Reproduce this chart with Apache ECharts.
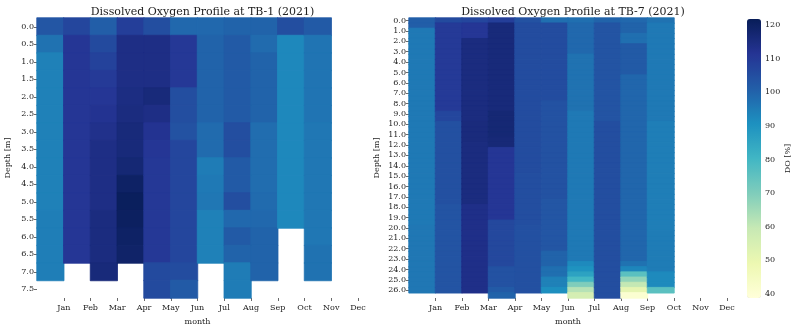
<!DOCTYPE html>
<html>
<head>
<meta charset="utf-8">
<script src="https://cdn.jsdelivr.net/npm/echarts@6/dist/echarts.min.js"></script>
<style>
html,body{margin:0;padding:0;background:#fff;}
#chart{width:800px;height:325px;}
</style>
</head>
<body>
<div id="chart"></div>
<script>
// ---- tick labels / categories ----
const months = ['Jan','Feb','Mar','Apr','May','Jun','Jul','Aug','Sep','Oct','Nov','Dec'];
const monthTicks = [1,2,3,4,5,6,7,8,9,10,11,12];
const cellColumns = ['0','1','2','3','4','5','6','7','8','9','10','11'];
const tb1Depths = ['0.0','0.5','1.0','1.5','2.0','2.5','3.0','3.5','4.0','4.5','5.0','5.5','6.0','6.5','7.0','7.5'];
const tb7Depths = ['0.0','0.5','1.0','1.5','2.0','2.5','3.0','3.5','4.0','4.5','5.0','5.5','6.0','6.5','7.0','7.5',
  '8.0','8.5','9.0','9.5','10.0','10.5','11.0','11.5','12.0','12.5','13.0','13.5','14.0','14.5','15.0','15.5',
  '16.0','16.5','17.0','17.5','18.0','18.5','19.0','19.5','20.0','20.5','21.0','21.5','22.0','22.5','23.0','23.5',
  '24.0','24.5','25.0','25.5','26.0','26.5'];
const colorbarTicks = [40,50,60,70,80,90,100,110,120];

// ---- TB-1 DO [%], one array per column, top (0.0 m) to bottom ----
const tb1Col0  = [103,97,94,94,94,94,94,94,94,94,94,94.5,94.5,94.5,94.5];
const tb1Col1  = [107,111,111,111,111,111,111,111,111,111,111,111,111,111];
const tb1Col2  = [101,106,108,110,111,112,113,114,114,114,114,115,115,115,116];
const tb1Col3  = [109,114,114,114,114.5,115,116,116,117,119.5,121,120.5,119.5,119];
const tb1Col4  = [105,114,114,114,116,114,112,111,110.5,110.5,110.5,110.5,110.5,110.5,106,106];
const tb1Col5  = [99,110.5,110.5,110.5,105,105,104,107,107,107,107,107,107,107,105.5,102];
const tb1Col6  = [99,100,100,100,100,100,98.5,98.5,95,95.5,96,94,94,94];
const tb1Col7  = [100,102,102,102,102,102,105,105,102,102,105,99,102,100,95,95];
const tb1Col8  = [100,98.5,100,100,100,100,98,98,98,98,98.5,99,100,100,100];
const tb1Col9  = [105,92.5,92.5,92.5,92.5,92.5,92.5,92.5,92.5,92.5,92.5,92.5];
const tb1Col10 = [102,96.5,96.5,96.5,96.5,96.5,96,96,96,96,96,96,96,97,97];
const tb1Values = [tb1Col0,tb1Col1,tb1Col2,tb1Col3,tb1Col4,tb1Col5,tb1Col6,tb1Col7,tb1Col8,tb1Col9,tb1Col10];

// ---- TB-7 DO [%], one array per column, top (0.0 m) to bottom ----
const tb7Col0 = [101,101,95.5,95.5,95.5,95.5,95.5,95.5,95.5,95.5,
  95.5,95.5,95.5,95.5,95.5,95.5,95.5,95.5,95.5,95.5,
  95.5,95.5,95.5,95.5,95.5,95.5,95.5,95.5,95.5,95.5,
  95.5,95.5,95.5,95.5,95.5,95.5,95.5,95.5,95.5,95.5,
  96,96,96,96,96,96,96,96,96,96,
  96,96,96];
const tb7Col1 = [106,110,110,110,110,110,110,110,110,110,
  110,110,110,110,110,110,110,110,107,107,
  104.5,104.5,104.5,104.5,104.5,104.5,104.5,104.5,104.5,104.5,
  104.5,104.5,104.5,104.5,104.5,104.5,103.5,103.5,103.5,103.5,
  103.5,103.5,103.5,103.5,103.5,103.5,103.5,103.5,103.5,103.5,
  103.5,103.5,103.5];
const tb7Col2 = [107,111,111,111,115,115,115,115,115,115,
  115,115,115,115,115,115,115,115,115,115,
  115.5,115.5,115.5,115.5,115,115,115,115,115,115,
  115,115,115,115,115,115,113.5,113.5,113.5,113.5,
  113.5,113.5,113.5,113.5,113.5,113.5,113.5,113.5,113.5,113.5,
  113.5,113.5,113.5];
const tb7Col3 = [109,116,116,116,116,116,116,116,116,116,
  116,116,116,116,116,116,116,116,117,117,
  117,117,117,116.5,116.5,111,111,111,111,111,
  111,111,111,111,111,111,111,111,111,106.5,
  106.5,106.5,106.5,106.5,106.5,106.5,106.5,106.5,104,104,
  104,104,102,100];
const tb7Col4 = [104,105.5,105.5,105.5,105.5,105.5,105.5,105.5,105.5,105.5,
  105.5,105.5,105.5,105.5,105.5,105.5,105.5,105.5,105.5,105.5,
  105.5,105.5,105.5,105.5,105.5,105.5,105.5,105.5,105.5,105.5,
  105,105,105,105,105,105,105,105,105,105,
  104.5,104.5,104.5,104.5,104.5,104.5,104.5,104.5,104.5,104.5,
  104.5,104.5,104.5];
const tb7Col5 = [97.5,105.5,105.5,105.5,105.5,105.5,105.5,105.5,105.5,105.5,
  105.5,105.5,105.5,105.5,105.5,105.5,104,104,104,104,
  104,104,104,104,104,104,104,104,104,104,
  104,104,104,104,104,103,103,103,103,103,
  103,103,103,103,103,100,100,100,97.5,97.5,
  94,94,91];
const tb7Col6 = [97.5,99,99,99,99,99,99,97,97,97,
  97,97,97,97,97,97,97,97,95.5,95.5,
  95.5,95.5,95.5,95.5,95.5,95.5,95.5,95.5,95.5,95.5,
  95.5,95.5,95.5,95.5,95.5,95.5,95.5,95.5,95.5,95.5,
  95.5,95.5,95.5,95.5,95.5,95.5,95.5,92,90,86,
  80,70,62,56];
const tb7Col7 = [100,103.5,103.5,103.5,103.5,103.5,103.5,103.5,103.5,103.5,
  103.5,103.5,103.5,103.5,103.5,103.5,103.5,103.5,103.5,103.5,
  105,105,105,105,105,105,105,105,105,105,
  105,105,105,105,105,105,105,105,105,105,
  105,105,105,105,105,105,105,105,105,105,
  105,105,105,105];
const tb7Col8 = [99,100,100,97.5,97.5,102,102,102,102,102,
  102,99.5,99.5,99.5,99.5,99.5,99.5,99.5,99.5,99.5,
  99.5,99.5,99.5,99.5,99.5,99.5,99.5,99.5,99.5,99.5,
  99.5,99.5,99.5,99.5,99.5,99.5,99.5,99.5,99.5,99.5,
  99.5,99.5,99.5,99.5,99.5,99.5,99.5,97,93,76,
  67,60,51,41];
const tb7Col9 = [97,95.5,95.5,95.5,95.5,95.5,95.5,95.5,95.5,95.5,
  95.5,95.5,95.5,95.5,95.5,95.5,95.5,95.5,95.5,95.5,
  94.5,94.5,94.5,94.5,94.5,94.5,94.5,94.5,94.5,94.5,
  94.5,94.5,94.5,94.5,94.5,94.5,94.5,94.5,94.5,94.5,
  94.5,95,95,95,95,95,95,95,95,92,
  92,92,76];
const tb7Values = [tb7Col0,tb7Col1,tb7Col2,tb7Col3,tb7Col4,tb7Col5,tb7Col6,tb7Col7,tb7Col8,tb7Col9];

const doMin = 38.8, doMax = 121.8;
const ylgnbu = ['#ffffd9','#edf8b1','#c7e9b4','#7fcdbb','#41b6c4','#1d91c0','#225ea8','#253494','#081d58'];

// colour of a value on the same colormap (used only to paint a thin seam-hiding border)
function hexRgb(h){ return [1,3,5].map(i => parseInt(h.substr(i,2),16)); }
const ylgnbuRgb = ylgnbu.map(hexRgb);
function colorAt(v){
  let t = (v - doMin) / (doMax - doMin);
  t = Math.max(0, Math.min(1, t)) * (ylgnbuRgb.length - 1);
  const i = Math.min(Math.floor(t), ylgnbuRgb.length - 2), f = t - i;
  const a = ylgnbuRgb[i], b = ylgnbuRgb[i+1];
  return 'rgb(' + a.map((c,k) => Math.round(c + (b[k]-c)*f)).join(',') + ')';
}

function toCells(cols){
  const out = [];
  cols.forEach((col, ci) => col.forEach((v, ri) => out.push({
    value:[ci, ri, v],
    itemStyle:{borderColor:colorAt(v), borderWidth:0.8}
  })));
  return out;
}

const FONT = 'DejaVu Serif';
const TXT = '#222';
const tickStyle = {lineStyle:{color:'#444', width:0.8}, length:3};

function monthAxis(gridIndex){
  return {
    type:'value', gridIndex, min:0, max:12, position:'bottom',
    name:'month', nameLocation:'middle', nameGap:20,
    nameTextStyle:{fontFamily:FONT, fontSize:8, color:TXT},
    axisLine:{show:false},
    splitLine:{show:false},
    axisTick:Object.assign({show:true, customValues:monthTicks}, tickStyle),
    axisLabel:{customValues:monthTicks, fontFamily:FONT, fontSize:8, color:TXT, margin:6,
      formatter:(v)=> months[Math.round(v)-1] || ''}
  };
}
function cellAxis(gridIndex){
  return {type:'category', gridIndex, data:cellColumns, show:false, boundaryGap:true, position:'bottom'};
}
function depthAxis(gridIndex, data, interval, gap){
  return {
    type:'category', gridIndex, data, inverse:true, boundaryGap:true,
    name:'Depth [m]', nameLocation:'middle', nameGap:gap,
    nameTextStyle:{fontFamily:FONT, fontSize:8, color:TXT},
    axisLine:{show:false}, splitLine:{show:false},
    axisTick:Object.assign({show:true, alignWithLabel:true, interval}, tickStyle),
    axisLabel:{interval, fontFamily:FONT, fontSize:8, color:TXT, margin:3}
  };
}

const chart = echarts.init(document.getElementById('chart'), null, {renderer:'canvas'});
chart.setOption({
  animation:false,
  backgroundColor:'#fff',
  title:[
    {text:'Dissolved Oxygen Profile at TB-1 (2021)', left:197.5, top:2, textAlign:'center',
     textStyle:{fontFamily:FONT, fontSize:11, fontWeight:'normal', color:TXT}},
    {text:'Dissolved Oxygen Profile at TB-7 (2021)', left:568, top:2, textAlign:'center',
     textStyle:{fontFamily:FONT, fontSize:11, fontWeight:'normal', color:TXT}}
  ],
  grid:[
    {left:37, top:18, width:321, height:280, outerBoundsMode:'none', containLabel:false},
    {left:409, top:18, width:318, height:280, outerBoundsMode:'none', containLabel:false},
    {left:747, top:19, width:14, height:279, outerBoundsMode:'none', containLabel:false}
  ],
  xAxis:[
    cellAxis(0), monthAxis(0),
    cellAxis(1), monthAxis(1),
    {type:'value', gridIndex:2, show:false, min:0, max:1}
  ],
  yAxis:[
    depthAxis(0, tb1Depths, 0, 25),
    depthAxis(1, tb7Depths, 1, 28),
    {type:'value', gridIndex:2, position:'right', min:doMin, max:doMax,
     name:'DO [%]', nameLocation:'middle', nameGap:22, nameRotate:90,
     nameTextStyle:{fontFamily:FONT, fontSize:8, color:TXT},
     axisLine:{show:false}, splitLine:{show:false},
     axisTick:Object.assign({show:true, customValues:colorbarTicks}, tickStyle),
     axisLabel:{customValues:colorbarTicks, fontFamily:FONT, fontSize:8, color:TXT, margin:4}}
  ],
  visualMap:{
    type:'continuous', min:doMin, max:doMax, seriesIndex:[0,1],
    orient:'vertical', left:747, top:19, itemWidth:14, itemHeight:279, padding:0,
    calculable:false, showLabel:false, text:null, hoverLink:false,
    inRange:{color:ylgnbu}
  },
  series:[
    {type:'heatmap', xAxisIndex:0, yAxisIndex:0, data:toCells(tb1Values),
     emphasis:{disabled:true}, progressive:0},
    {type:'heatmap', xAxisIndex:2, yAxisIndex:1, data:toCells(tb7Values),
     emphasis:{disabled:true}, progressive:0}
  ]
});
</script>
</body>
</html>
